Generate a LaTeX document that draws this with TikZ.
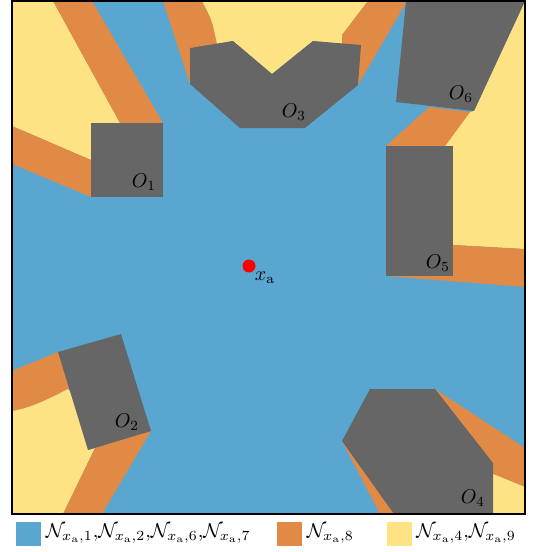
\documentclass[tikz,border=0pt]{standalone}
\usetikzlibrary{positioning}

\begin{document}
\begin{tikzpicture}[x=0.5pt, y=-0.5pt,
    obstacle/.style={fill=obsgray},
    olabel/.style={inner sep=0pt},
    legbox/.style={rectangle, minimum width=12.5pt, minimum height=12pt,
                   inner sep=0pt},
    legtext/.style={right=0pt of #1, inner sep=2pt}
]
% Farben wie im Plot: sichtbar (blau), Rand (orange), verdeckt (gelb)
\definecolor{regblue}{HTML}{59A7D1}
\definecolor{regorange}{HTML}{E08A45}
\definecolor{regyellow}{HTML}{FEE385}
\definecolor{obsgray}{HTML}{666666}
\useasboundingbox (0,0) rectangle (532,552);

\begin{scope}
\clip (12,1) rectangle (525,514);
\fill[regblue] (12,1) rectangle (525,514);
% links oben
\fill[regyellow] (12,1) -- (53,1) -- (120,123) -- (100,130) -- (91,160) -- (12,126) -- cycle;
\fill[regorange] (53,1) -- (92,1) -- (163,123) -- (140,140) -- (120,123) -- cycle;
\fill[regorange] (12,126) -- (91,160) -- (100,180) -- (91,197) -- (12,164) -- cycle;
% oben
\fill[regorange] (163,1) -- (202,1) .. controls (212,20) .. (217,44) -- (200,70) -- (190,84) -- cycle;
\fill[regyellow] (202,1) -- (368,1) -- (342,35) -- (342,44) -- (313,41) -- (272,74)
    -- (233,41) -- (217,44) .. controls (212,20) .. (202,1) -- cycle;
\fill[regorange] (368,1) -- (407,1) -- (358,85) -- (345,60) -- (342,44) -- (342,35) -- cycle;
% rechts oben
\fill[regyellow] (525,1) -- (474,111) -- (470,112) -- (445,146) -- (453,146)
    -- (453,245) -- (525,249) -- cycle;
\fill[regorange] (429,107) -- (470,112) -- (445,146) -- (386,146) -- cycle;
\fill[regorange] (453,245) -- (525,249) -- (525,287) -- (386,276) -- cycle;
% rechts unten
\fill[regorange] (435,389) -- (525,448) -- (525,487) -- (493,474) -- (480,460) -- cycle;
\fill[regyellow] (493,474) -- (525,487) -- (525,514) -- (493,514) -- cycle;
\fill[regorange] (342,441) -- (380,514) -- (394,514) -- (370,470) -- cycle;
% links unten
\fill[regorange] (12,371) -- (58,352) -- (90,380) -- (68,389) .. controls (45,401) and (30,408) .. (12,411) -- cycle;
\fill[regyellow] (12,411) .. controls (30,408) and (45,401) .. (68,389) -- (95,420) -- (88,450)
    -- (95,448) -- (63,514) -- (12,514) -- cycle;
\fill[regorange] (95,448) -- (120,430) -- (151,431) -- (102,514) -- (63,514) -- cycle;

% Hindernisse
\fill[obstacle] (91,123) rectangle (163,197);
\fill[obstacle] (58,352) -- (121,334) -- (151,431) -- (88,450) -- cycle;
\fill[obstacle] (190,48) -- (233,41) -- (272,74) -- (313,41) -- (361,45) -- (358,85)
    -- (305,128) -- (240,128) -- (190,84) -- cycle;
\fill[obstacle] (370,389) -- (435,389) -- (493,463) -- (493,514) -- (394,514)
    -- (342,441) -- cycle;
\fill[obstacle] (386,146) rectangle (453,276);
\fill[obstacle] (406,1) -- (525,1) -- (474,111) -- (396,102) -- cycle;
\end{scope}
\draw[line width=1pt] (12,1) rectangle (525,514);

\node[olabel] (o1) at (144,182) {$O_1$};
\node[olabel] (o2) at (127,422) {$O_2$};
\node[olabel] (o3) at (294,112) {$O_3$};
\node[olabel] (o4) at (473,498) {$O_4$};
\node[olabel] (o5) at (438,263) {$O_5$};
\node[olabel] (o6) at (461,94) {$O_6$};

\node[circle, fill=red, minimum size=6.5pt, inner sep=0pt] (xa) at (249,266) {};
\node[olabel] (xalabel) at (265,278) {$x_{\mathrm{a}}$};

% Legende
\node[legbox, fill=regblue] (kblue) at (28.5,534) {};
\node[legtext=kblue] (tblue) {$\mathcal{N}_{x_{\mathrm{a}},1}{,}\mathcal{N}_{x_{\mathrm{a}},2}{,}%
    \mathcal{N}_{x_{\mathrm{a}},6}{,}\mathcal{N}_{x_{\mathrm{a}},7}$};
\node[legbox, fill=regorange] (korange) at (289.5,534) {};
\node[legtext=korange] (torange) {$\mathcal{N}_{x_{\mathrm{a}},8}$};
\node[legbox, fill=regyellow] (kyellow) at (399,534) {};
\node[legtext=kyellow] (tyellow) {$\mathcal{N}_{x_{\mathrm{a}},4}{,}\mathcal{N}_{x_{\mathrm{a}},9}$};
\end{tikzpicture}
\end{document}
